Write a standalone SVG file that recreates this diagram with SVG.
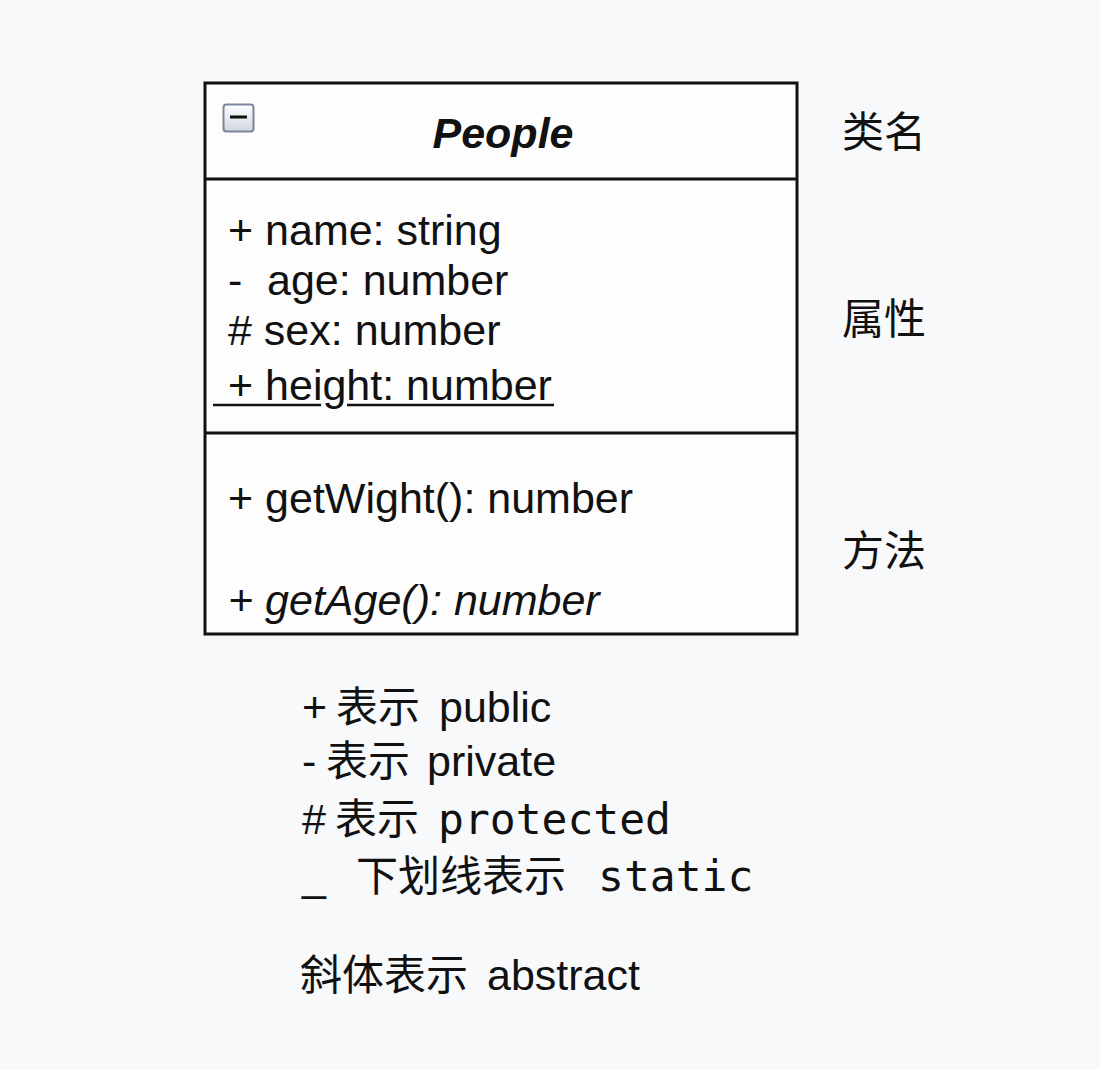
<svg xmlns="http://www.w3.org/2000/svg" width="1100" height="1070" viewBox="0 0 1100 1070">
<defs>
<linearGradient id="btn" x1="0" y1="0" x2="0" y2="1">
<stop offset="0" stop-color="#ffffff"/>
<stop offset="1" stop-color="#cfd6e2"/>
</linearGradient>
</defs>
<style>
.lat{font-family:"Liberation Sans",Arial,sans-serif;font-size:43px;fill:#111}
.cjk{font-family:"Noto Sans CJK SC",sans-serif;font-size:42px;fill:#111}
.leg{font-family:"Liberation Sans","Noto Sans CJK SC",sans-serif;font-size:43px;fill:#111}
.mono{font-family:"DejaVu Sans Mono","Liberation Mono",monospace;font-size:43px}
.zh{font-family:"Noto Sans CJK SC",sans-serif;font-size:42px}
.box{fill:#fdfdfe;stroke:#111;stroke-width:3}
.div{stroke:#111;stroke-width:3}
</style>
<rect x="0" y="0" width="1100" height="1070" fill="#f8f9fb"/>
<g id="class-people">
<rect class="box" x="205" y="83" width="592" height="551"/>
<line class="div" x1="205" y1="179" x2="797" y2="179"/>
<line class="div" x1="205" y1="433" x2="797" y2="433"/>
<g id="collapse-icon">
<rect x="223.5" y="104.5" width="30" height="27" rx="3" fill="url(#btn)" stroke="#7a8699" stroke-width="2"/>
<line x1="230" y1="117" x2="247" y2="117" stroke="#111" stroke-width="3"/>
</g>
<text class="lat" x="503" y="148" text-anchor="middle" font-weight="bold" font-style="italic">People</text>
<text class="lat" x="228" y="245">+ name: string</text>
<text class="lat" y="295"><tspan x="228">-</tspan><tspan x="267">age: number</tspan></text>
<text class="lat" x="228" y="345"># sex: number</text>
<text class="lat" x="228" y="400">+ height: number</text>
<line x1="213" y1="405" x2="321" y2="405" stroke="#111" stroke-width="2.5"/>
<line x1="347" y1="405" x2="554" y2="405" stroke="#111" stroke-width="2.5"/>
<text class="lat" x="228" y="513">+ getWight(): number</text>
<text class="lat" x="228" y="615" font-style="italic">+ getAge(): number</text>
</g>
<g id="labels">
<text class="cjk" x="842" y="147">类名</text>
<text class="cjk" x="842" y="334">属性</text>
<text class="cjk" x="842" y="566">方法</text>
</g>
<g id="legend">
<text class="leg" y="722"><tspan x="302">+</tspan><tspan class="zh" x="336">表示</tspan><tspan x="439">public</tspan></text>
<text class="leg" y="776"><tspan x="302">-</tspan><tspan class="zh" x="326">表示</tspan><tspan x="427">private</tspan></text>
<text class="leg" y="834"><tspan x="302">#</tspan><tspan class="zh" x="335">表示</tspan><tspan class="mono" x="438">protected</tspan></text>
<text class="leg" y="891"><tspan x="302">_</tspan><tspan class="zh" x="356">下划线表示</tspan><tspan class="mono" x="598">static</tspan></text>
<text class="leg" y="990"><tspan class="zh" x="300">斜体表示</tspan><tspan x="487">abstract</tspan></text>
</g>
<g id="connectors"/>
</svg>
